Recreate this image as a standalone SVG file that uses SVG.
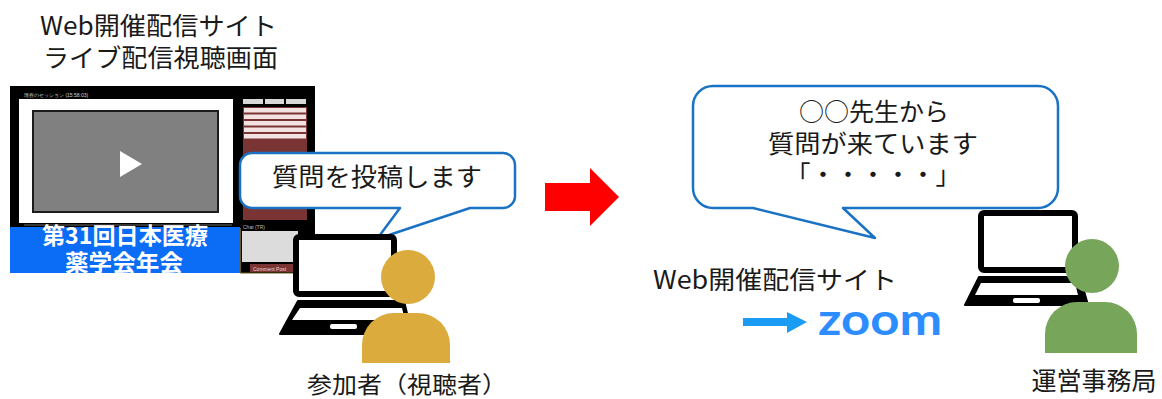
<svg xmlns="http://www.w3.org/2000/svg" width="1162" height="399" viewBox="0 0 1162 399">
  <style>
    .t { font-family: "Noto Sans CJK JP", "Noto Sans", sans-serif; fill: #1a1a1a; }
    .bubble { fill: #ffffff; stroke: #1a72c4; stroke-width: 2.5; stroke-linejoin: round; }
    .lapline { fill: #ffffff; stroke: #000000; stroke-width: 6; stroke-linejoin: round; }
    .tiny { font-family: "Liberation Sans", sans-serif; font-size: 5px; }
    .banner { font-family: "Noto Sans CJK JP", sans-serif; font-weight: bold; font-size: 23px; fill: #ffffff; }
  </style>

  <!-- page title -->
  <g id="title">
    <text class="t" x="40" y="35" font-size="25" textLength="237" lengthAdjust="spacingAndGlyphs">Web開催配信サイト</text>
    <text class="t" x="43" y="67" font-size="25" textLength="235" lengthAdjust="spacingAndGlyphs">ライブ配信視聴画面</text>
  </g>

  <!-- live viewing screen -->
  <g id="screen">
    <rect x="10" y="86" width="305" height="187" fill="#000000"/>
    <text class="tiny" x="24" y="97" fill="#d6d6d6" font-size="6">現在のセッション (15:58:03)</text>
    <rect x="19" y="99" width="214" height="124" fill="#ffffff"/>
    <rect x="33" y="111" width="185" height="101" fill="#808080" stroke="#1c1c1c" stroke-width="2"/>
    <polygon points="120,151 142,164 120,177" fill="#ffffff"/>
    <line x1="24" y1="225" x2="232" y2="225" stroke="#6e6e6e" stroke-width="1"/>
    <!-- side panel -->
    <rect x="243" y="99" width="20" height="5" fill="#d8d8d8"/>
    <rect x="265" y="99" width="19" height="5" fill="#d8d8d8"/>
    <rect x="286" y="99" width="20" height="5" fill="#d8d8d8"/>
    <rect x="243" y="107" width="64" height="113" fill="#7b3434"/>
    <rect x="244" y="108" width="62" height="4.5" fill="#f2e2e2"/>
    <rect x="244" y="114.5" width="62" height="4.5" fill="#f2e2e2"/>
    <rect x="244" y="121" width="62" height="4.5" fill="#f2e2e2"/>
    <rect x="244" y="127.5" width="62" height="4.5" fill="#f2e2e2"/>
    <rect x="244" y="134" width="62" height="4.5" fill="#f2e2e2"/>
    <text class="tiny" x="243" y="229" fill="#bdbdbd" font-size="4">Chat (TR)</text>
    <rect x="242" y="231" width="56" height="31" fill="#dcdcdc"/>
    <rect x="250" y="264" width="44" height="8" fill="#7b3434"/>
    <text class="tiny" x="253" y="270.5" fill="#f0d8d8">Comment Post</text>
    <line x1="240.5" y1="228" x2="240.5" y2="273" stroke="#6b5a1e" stroke-width="1.2"/>
    <line x1="240" y1="273" x2="298" y2="273" stroke="#6b5a1e" stroke-width="1.2"/>
    <!-- event banner -->
    <rect x="10" y="227" width="230" height="46" fill="#0b6cf5"/>
    <text class="banner" x="42" y="244" textLength="166" lengthAdjust="spacingAndGlyphs">第31回日本医療</text>
    <text class="banner" x="65" y="271" textLength="118" lengthAdjust="spacingAndGlyphs">薬学会年会</text>
  </g>

  <!-- participant -->
  <g id="participant">
    <path class="bubble" d="M252,153 H503 A12,12 0 0 1 515,165 V196 A12,12 0 0 1 503,208 H470 L377,239 L400,208 H252 A12,12 0 0 1 240,196 V165 A12,12 0 0 1 252,153 Z"/>
    <text class="t" x="272" y="186" font-size="25" textLength="210" lengthAdjust="spacingAndGlyphs">質問を投稿します</text>
    <rect class="lapline" x="296" y="237" width="98" height="57" rx="3"/>
    <path d="M298,301 H404 L412,334 H280 Z" fill="#000000" stroke="#000000" stroke-width="2" stroke-linejoin="round"/>
    <path d="M300,308 H402 L405,320 H292 Z" fill="#ffffff"/>
    <rect x="330" y="324" width="27" height="5" rx="2" fill="#ffffff"/>
    <circle cx="408" cy="277" r="27" fill="#dcab3e"/>
    <path d="M362,363 V345 A32,32 0 0 1 394,313 H418 A32,32 0 0 1 450,345 V363 Z" fill="#dcab3e"/>
    <text class="t" x="407" y="393" font-size="23" text-anchor="middle" textLength="200" lengthAdjust="spacingAndGlyphs">参加者（視聴者）</text>
  </g>

  <!-- flow arrows -->
  <g id="connectors">
    <polygon points="545,183 590,183 590,168 619,197 590,226 590,211 545,211" fill="#ff0000"/>
    <polygon points="743,318 787,318 787,312 807,322 787,333 787,326 743,326" fill="#1a9cf5"/>
  </g>

  <!-- delivery site -->
  <g id="site">
    <text class="t" x="653" y="289" font-size="25" textLength="244" lengthAdjust="spacingAndGlyphs">Web開催配信サイト</text>
    <text x="818" y="335" font-family="Lato, 'Liberation Sans', sans-serif" font-weight="bold" font-size="44" fill="#2d8cff" textLength="124" lengthAdjust="spacingAndGlyphs">zoom</text>
  </g>

  <!-- organiser -->
  <g id="office">
    <path class="bubble" d="M713,86 H1038 A20,20 0 0 1 1058,106 V188 A20,20 0 0 1 1038,208 H843 L875,238 L753,208 H713 A20,20 0 0 1 693,188 V106 A20,20 0 0 1 713,86 Z"/>
    <text class="t" x="874" y="121" font-size="25" text-anchor="middle">○○先生から</text>
    <text class="t" x="873" y="153" font-size="25" text-anchor="middle" textLength="210" lengthAdjust="spacingAndGlyphs">質問が来ています</text>
    <text class="t" x="873" y="184" font-size="25" text-anchor="middle">「・・・・・」</text>
    <rect class="lapline" x="981" y="213" width="94" height="57" rx="3"/>
    <path d="M979,277 H1080 L1088,305 H965 Z" fill="#000000" stroke="#000000" stroke-width="2" stroke-linejoin="round"/>
    <path d="M981,283 H1075 L1078,295 H975 Z" fill="#ffffff"/>
    <rect x="1013" y="298" width="27" height="5" rx="2" fill="#ffffff"/>
    <circle cx="1092" cy="266" r="27" fill="#77a65a"/>
    <path d="M1045,353 V334 A32,32 0 0 1 1077,302 H1105 A32,32 0 0 1 1137,334 V353 Z" fill="#77a65a"/>
    <text class="t" x="1094" y="390" font-size="25" text-anchor="middle">運営事務局</text>
  </g>
</svg>
